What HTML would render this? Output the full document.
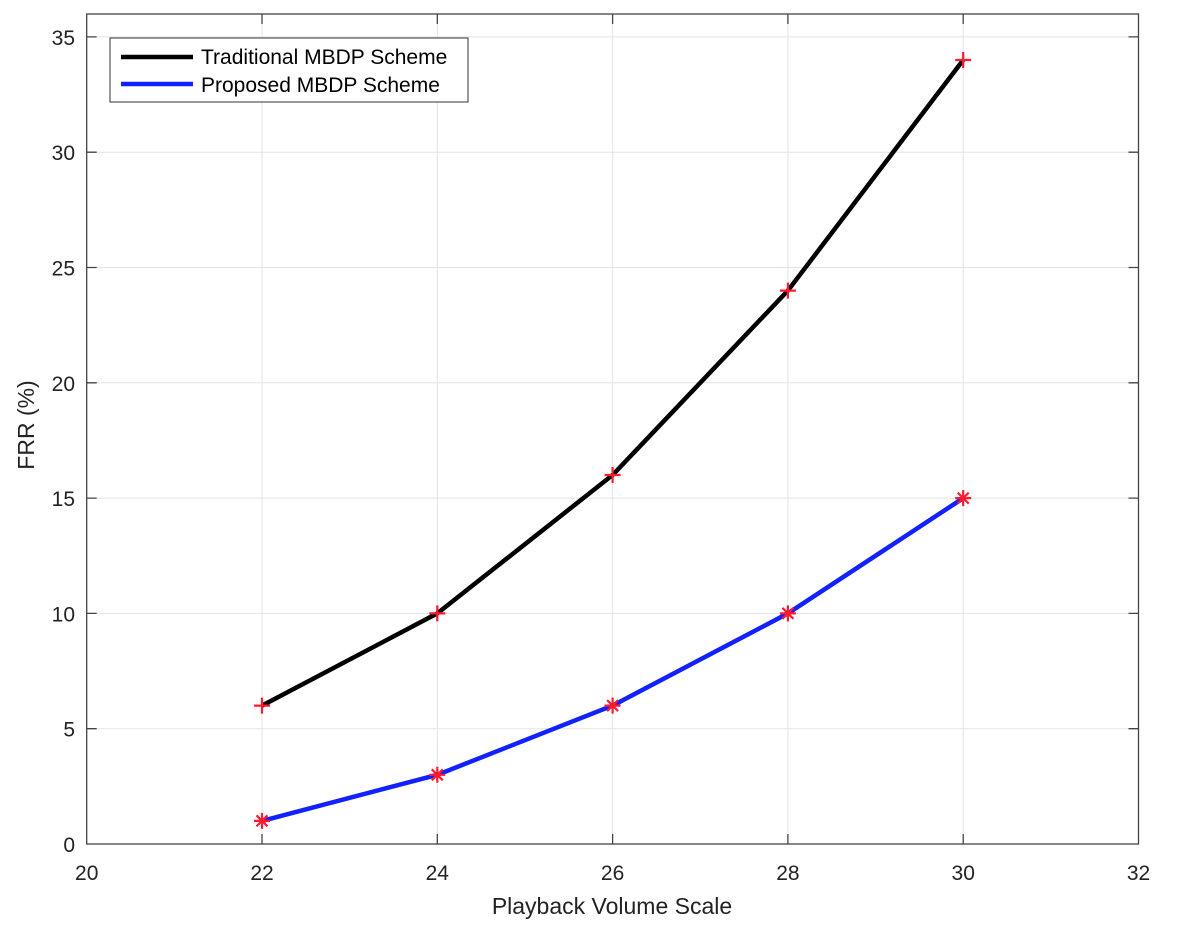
<!DOCTYPE html><html><head><style>body{margin:0;background:#fff}</style></head><body>
<svg width="1200" height="937" xmlns="http://www.w3.org/2000/svg" font-family="Liberation Sans, sans-serif">
<rect width="1200" height="937" fill="#fff"/>
<g stroke="#e3e3e3" stroke-width="1">
<line x1="262" y1="14" x2="262" y2="844"/><line x1="437.3" y1="14" x2="437.3" y2="844"/><line x1="612.6" y1="14" x2="612.6" y2="844"/><line x1="787.9" y1="14" x2="787.9" y2="844"/><line x1="963.2" y1="14" x2="963.2" y2="844"/>
<line x1="86.7" y1="728.7" x2="1138.5" y2="728.7"/><line x1="86.7" y1="613.4" x2="1138.5" y2="613.4"/><line x1="86.7" y1="498.1" x2="1138.5" y2="498.1"/><line x1="86.7" y1="382.8" x2="1138.5" y2="382.8"/><line x1="86.7" y1="267.5" x2="1138.5" y2="267.5"/><line x1="86.7" y1="152.2" x2="1138.5" y2="152.2"/><line x1="86.7" y1="36.9" x2="1138.5" y2="36.9"/>
</g>
<rect x="86.7" y="14" width="1051.8" height="830" fill="none" stroke="#444" stroke-width="1.3"/>
<g stroke="#444" stroke-width="1.3">
<path d="M262 844v-10M437.3 844v-10M612.6 844v-10M787.9 844v-10M963.2 844v-10M262 14v10M437.3 14v10M612.6 14v10M787.9 14v10M963.2 14v10"/>
<path d="M86.7 728.7h10M86.7 613.4h10M86.7 498.1h10M86.7 382.8h10M86.7 267.5h10M86.7 152.2h10M86.7 36.9h10M1138.5 728.7h-10M1138.5 613.4h-10M1138.5 498.1h-10M1138.5 382.8h-10M1138.5 267.5h-10M1138.5 152.2h-10M1138.5 36.9h-10"/>
</g>
<g font-size="21" fill="#222" text-anchor="middle">
<text x="86.7" y="880">20</text><text x="262" y="880">22</text><text x="437.3" y="880">24</text><text x="612.6" y="880">26</text><text x="787.9" y="880">28</text><text x="963.2" y="880">30</text><text x="1138.5" y="880">32</text>
</g>
<g font-size="21" fill="#222" text-anchor="end">
<text x="75" y="852">0</text><text x="75" y="736.7">5</text><text x="75" y="621.4">10</text><text x="75" y="506.1">15</text><text x="75" y="390.8">20</text><text x="75" y="275.5">25</text><text x="75" y="160.2">30</text><text x="75" y="44.9">35</text>
</g>
<text x="612" y="914" font-size="23" fill="#222" text-anchor="middle">Playback Volume Scale</text>
<text transform="translate(34,425) rotate(-90)" font-size="23" fill="#222" text-anchor="middle">FRR (%)</text>
<polyline fill="none" stroke="#000" stroke-width="4.5" points="262,705.6 437.3,613.4 612.6,475.0 787.9,290.6 963.2,60.0"/>
<polyline fill="none" stroke="#1122ff" stroke-width="4.5" points="262,820.9 437.3,774.8 612.6,705.6 787.9,613.4 963.2,498.1"/>
<g stroke="#ff1a2e" stroke-width="2.2">
<path d="M254 705.6h16M262 697.6v16M429.3 613.4h16M437.3 605.4v16M604.6 475h16M612.6 467v16M779.9 290.6h16M787.9 282.6v16M955.2 60h16M963.2 52v16"/>
<path d="M254 820.9h16M262 812.9v16M256.5 815.4l11 11M256.5 826.4l11-11"/>
<path d="M429.3 774.8h16M437.3 766.8v16M431.8 769.3l11 11M431.8 780.3l11-11"/>
<path d="M604.6 705.6h16M612.6 697.6v16M607.1 700.1l11 11M607.1 711.1l11-11"/>
<path d="M779.9 613.4h16M787.9 605.4v16M782.4 607.9l11 11M782.4 618.9l11-11"/>
<path d="M955.2 498.1h16M963.2 490.1v16M957.7 492.6l11 11M957.7 503.6l11-11"/>
</g>
<rect x="110" y="38" width="358" height="64" fill="#fff" stroke="#333" stroke-width="1"/>
<line x1="121" y1="57" x2="193" y2="57" stroke="#000" stroke-width="4.5"/>
<line x1="121" y1="84" x2="193" y2="84" stroke="#1122ff" stroke-width="4.5"/>
<g font-size="21" fill="#000"><text x="201" y="64">Traditional MBDP Scheme</text><text x="201" y="92">Proposed MBDP Scheme</text></g>
</svg></body></html>
